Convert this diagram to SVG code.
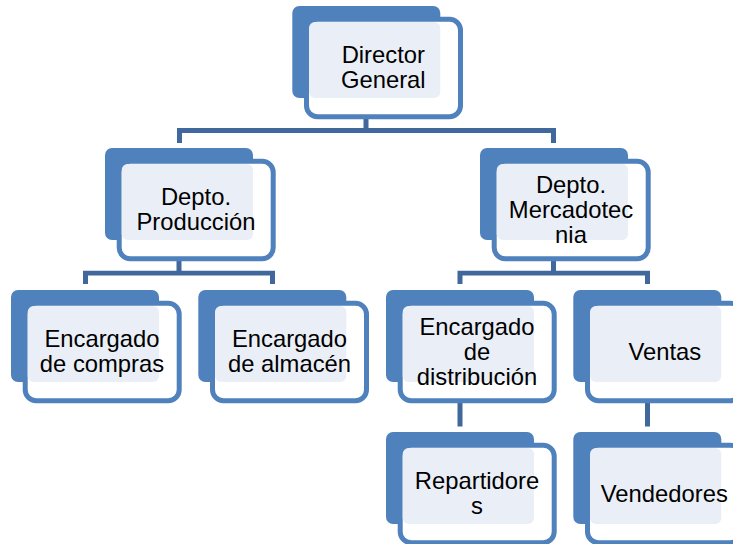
<svg xmlns="http://www.w3.org/2000/svg" width="733" height="544" viewBox="0 0 733 544">
<style>
.back{fill:#4f81bd}
.out{fill:#fff;stroke:#4f81bd;stroke-width:5}
.lite{fill:#eaeff7}
.c{fill:#41689c}
.cl{fill:#eaeff7}
text{font-family:"Liberation Sans",Arial,sans-serif;font-size:23.8px;fill:#000;text-anchor:middle}
</style>
<defs>
<g id="box">
<rect class="back" x="0" y="0" width="148" height="92" rx="7"/>
<rect class="out" x="14.2" y="13.2" width="154" height="97.5" rx="11"/>
<rect class="lite" x="16.7" y="16" width="131.3" height="76" rx="6"/>
</g>
</defs>
<g id="connectors">
<path class="c" d="M363.500 116h5v12h187.500v15h-5v-10h-369v10h-5v-15h186.500z"/>
<rect class="cl" x="363.500" y="103" width="5" height="13"/>
<path class="c" d="M176.500 258h5v12.700h93.500v13.300h-5v-8.500h-182v8.500h-5v-13.300h93.500z"/>
<rect class="cl" x="176.500" y="245" width="5" height="13"/>
<path class="c" d="M551 258h5v12.700h94v13.300h-5v-8.500h-182.500v8.500h-5v-13.300h93.500z"/>
<rect class="cl" x="551" y="245" width="5" height="13"/>
<rect class="c" x="457.500" y="400" width="5" height="26.500"/>
<rect class="cl" x="457.500" y="387" width="5" height="13"/>
<rect class="c" x="645" y="400" width="5" height="26.500"/>
<rect class="cl" x="645" y="387" width="5" height="13"/>
</g>
<g id="director"><use href="#box" x="292.300" y="6"/><text x="383.300" y="63.300">Director</text><text x="383.300" y="88">General</text></g>
<g id="produccion"><use href="#box" x="105" y="148"/><text x="196" y="205">Depto.</text><text x="196" y="230">Producción</text></g>
<g id="mercadotecnia"><use href="#box" x="480" y="148"/><text x="571" y="192.700">Depto.</text><text x="571" y="217.700">Mercadotec</text><text x="571" y="242.700">nia</text></g>
<g id="compras"><use href="#box" x="11" y="290"/><text x="102" y="347">Encargado</text><text x="102" y="372">de compras</text></g>
<g id="almacen"><use href="#box" x="198.300" y="290"/><text x="289.500" y="347">Encargado</text><text x="289.500" y="372">de almacén</text></g>
<g id="distribucion"><use href="#box" x="386" y="290"/><text x="477" y="335">Encargado</text><text x="477" y="360">de</text><text x="477" y="385">distribución</text></g>
<g id="ventas"><use href="#box" x="573.300" y="290"/><text x="664.800" y="359.500">Ventas</text></g>
<g id="repartidores"><use href="#box" x="386" y="432"/><text x="477" y="489">Repartidore</text><text x="477" y="514">s</text></g>
<g id="vendedores"><use href="#box" x="573.300" y="432"/><text x="664.300" y="501.700">Vendedores</text></g>
</svg>
